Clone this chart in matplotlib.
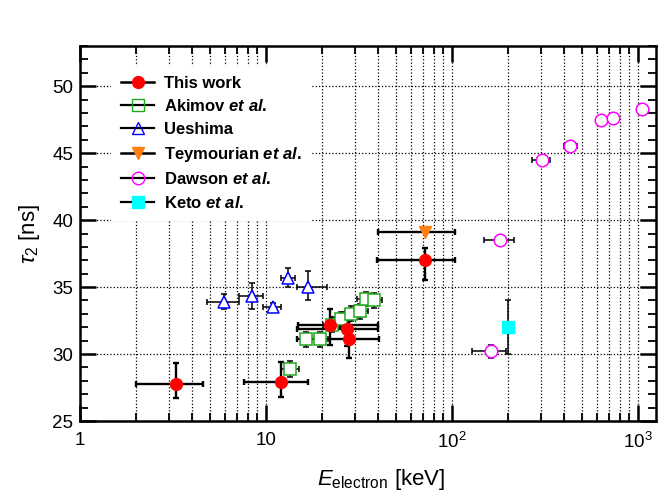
import matplotlib
matplotlib.use("Agg")
import matplotlib.pyplot as plt
from matplotlib.lines import Line2D
from matplotlib.ticker import FixedLocator, NullFormatter, MultipleLocator, LogLocator
import numpy as np

plt.rcParams['font.family'] = ['Liberation Sans', 'DejaVu Sans']
plt.rcParams['mathtext.fontset'] = 'custom'
plt.rcParams['mathtext.rm'] = 'Liberation Sans'
plt.rcParams['mathtext.it'] = 'Liberation Sans:italic'
plt.rcParams['mathtext.bf'] = 'Liberation Sans:bold'
plt.rcParams['mathtext.bfit'] = 'Liberation Sans:bold:italic'

# ---- data ----
this_x = [3.3, 12.1, 22.1, 27.4, 27.9, 71.6]
this_y = [27.8, 27.9, 32.2, 31.9, 31.1, 37.0]
this_xlo = [2.0, 7.6, 14.8, 14.6, 14.7, 39.5]
this_xhi = [4.6, 16.8, 40.0, 40.0, 40.6, 104.0]
this_ylo = [26.7, 26.8, 30.7, 30.6, 29.7, 35.5]
this_yhi = [29.3, 29.4, 33.4, 33.2, 32.5, 37.9]

ak_x = [13.5, 16.5, 19.5, 22.6, 25.3, 28.5, 32.0, 34.5, 38.1]
ak_y = [28.9, 31.1, 31.1, 32.2, 32.6, 33.0, 33.2, 34.1, 34.0]
ak_xerr = [1.5, 1.8, 2.1, 2.4, 2.7, 3.0, 3.4, 3.6, 4.0]
ak_yerr = [0.6, 0.55, 0.55, 0.55, 0.55, 0.55, 0.55, 0.55, 0.55]

ue_x = [5.97, 8.38, 10.87, 13.08, 16.76]
ue_y = [33.9, 34.3, 33.5, 35.65, 35.0]
ue_xlo = [4.8, 7.18, 9.6, 12.0, 14.6]
ue_xhi = [7.18, 9.6, 12.0, 14.3, 21.2]
ue_ylo = [33.4, 33.34, 33.2, 35.0, 34.03]
ue_yhi = [34.46, 35.32, 33.8, 36.4, 36.19]

te_x = [71.6]
te_y = [39.1]
te_xlo = [40.0]
te_xhi = [104.0]

da_x = [161.5, 181, 303, 431, 632, 737, 1047]
da_y = [30.2, 38.5, 44.5, 45.5, 47.5, 47.6, 48.3]
da_xlo = [127.6, 148.6, 270, 400, 632, 737, 1047]
da_xhi = [195, 215, 336, 468, 632, 737, 1047]
da_yerr = [0.5, 0.0, 0.0, 0.0, 0.0, 0.0, 0.38]

ke_x = [201]
ke_y = [32.0]
ke_ylo = [30.0]
ke_yhi = [34.0]

labels = ["This work", r"Akimov $\mathbfit{et\ al}$.", "Ueshima",
          r"Teymourian $\mathbfit{et\ al}$.", r"Dawson $\mathbfit{et\ al}$.",
          r"Keto $\mathbfit{et\ al}$."]

xticks = [1, 10, 100, 1000]
xticklabels = ["1", "10", r"10$^{2}$", r"10$^{3}$"]

RED = '#ff0000'
GREEN = '#1ea81e'
BLUE = '#0000ff'
ORANGE = '#ff7f10'
MAG = '#ff00ff'
CYAN = '#00ffff'

fig = plt.figure(figsize=(6.62, 4.93), dpi=100)
ax = fig.add_axes([80/662, 1-421/493, 576/662, 375/493])
ax.set_xscale('log')
ax.set_xlim(1, 1250)
ax.set_ylim(25, 53)

def asym(c, lo, hi):
    c = np.asarray(c, float)
    return [c - np.asarray(lo, float), np.asarray(hi, float) - c]

ekw = dict(ecolor='black', elinewidth=1.1, capsize=2.2, capthick=1.1)

# this work error bars (below other markers)
ax.errorbar(this_x, this_y, xerr=asym(this_x, this_xlo, this_xhi),
            yerr=asym(this_y, this_ylo, this_yhi), fmt='none',
            ecolor='black', elinewidth=1.7, capsize=2.5, capthick=1.7, zorder=3)

ax.errorbar(ak_x, ak_y, xerr=ak_xerr, yerr=ak_yerr, fmt='s', ms=8,
            mfc='white', mec=GREEN, mew=1.1, zorder=4, **ekw)
ax.errorbar(ue_x, ue_y, xerr=asym(ue_x, ue_xlo, ue_xhi),
            yerr=asym(ue_y, ue_ylo, ue_yhi), fmt='^', ms=9,
            mfc='white', mec=BLUE, mew=1.1, zorder=4, **ekw)
ax.errorbar(te_x, te_y, xerr=asym(te_x, te_xlo, te_xhi), fmt='v', ms=9,
            mfc=ORANGE, mec=ORANGE, zorder=4, ecolor='black',
            elinewidth=1.7, capsize=2.5, capthick=1.7)
ax.errorbar(da_x, da_y, xerr=asym(da_x, da_xlo, da_xhi), yerr=da_yerr,
            fmt='o', ms=9, mfc='white', mec=MAG, mew=1.1, zorder=4, **ekw)
ax.errorbar(ke_x, ke_y, yerr=asym(ke_y, ke_ylo, ke_yhi), fmt='s', ms=8,
            mfc=CYAN, mec=CYAN, zorder=4, **ekw)
ax.plot(this_x, this_y, 'o', ms=8.5, mfc=RED, mec=RED, zorder=5)

# axes styling
for s in ax.spines.values():
    s.set_linewidth(1.8)
ax.xaxis.set_major_locator(FixedLocator(xticks))
ax.set_xticklabels(xticklabels)
ax.xaxis.set_minor_locator(LogLocator(base=10, subs=np.arange(2, 10)))
ax.xaxis.set_minor_formatter(NullFormatter())
ax.yaxis.set_major_locator(MultipleLocator(5))
ax.yaxis.set_minor_locator(MultipleLocator(1))
ax.tick_params(which='both', direction='in', top=True, right=True)
ax.tick_params(which='major', length=11.5, width=1.8, labelsize=13.5)
ax.tick_params(which='minor', length=5.8, width=1.3)
ax.tick_params(axis='x', which='major', pad=8)
ax.tick_params(axis='y', which='major', pad=5)
ax.grid(True, which='major', axis='both', color='black', linestyle=':', linewidth=0.9)
ax.grid(True, which='minor', axis='x', color='black', linestyle=':', linewidth=0.9)
ax.set_axisbelow(True)

ax.set_xlabel(r"$E_{\mathrm{electron}}$ [keV]", fontsize=16, labelpad=11)
ax.xaxis.label.set_x(0.522)
ax.set_ylabel(r"$\tau_{2}$ [ns]", fontsize=16, labelpad=7)

handles = [
    Line2D([], [], color='black', lw=1.8, marker='o', ms=8.5, mfc=RED, mec=RED),
    Line2D([], [], color='black', lw=1.6, marker='s', ms=8, mfc='none', mec=GREEN),
    Line2D([], [], color='black', lw=1.6, marker='^', ms=9, mfc='none', mec=BLUE),
    Line2D([], [], color='black', lw=1.8, marker='v', ms=9, mfc=ORANGE, mec=ORANGE),
    Line2D([], [], color='black', lw=1.6, marker='o', ms=9, mfc='none', mec=MAG),
    Line2D([], [], color='black', lw=1.6, marker='s', ms=8, mfc=CYAN, mec=CYAN),
]
leg = ax.legend(handles, labels, loc='upper left', bbox_to_anchor=(0.054, 0.948),
                borderaxespad=0, frameon=True, framealpha=1, edgecolor='none',
                fancybox=False, prop={'weight': 'bold', 'size': 12},
                handlelength=2.0, handletextpad=0.6, labelspacing=0.46,
                borderpad=0.6)
leg.set_zorder(10)

fig.savefig('out.png', dpi=100)
